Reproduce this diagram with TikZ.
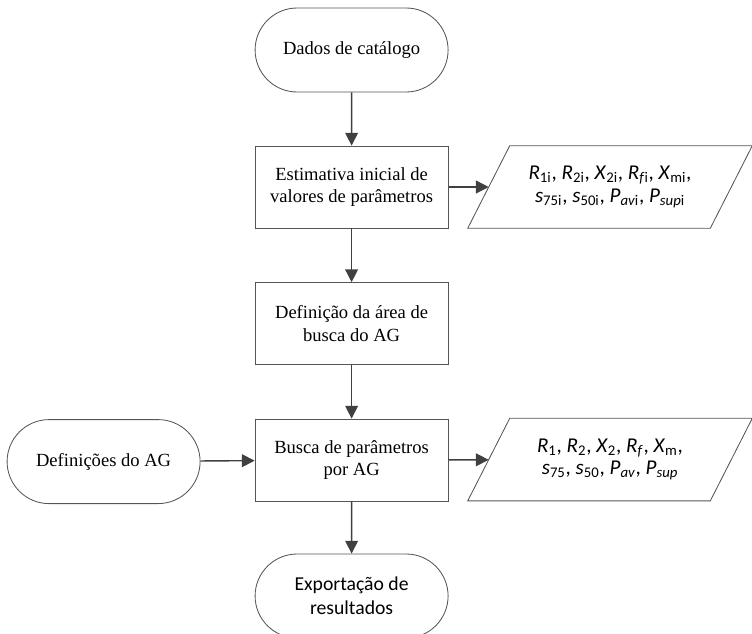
\documentclass[tikz,border=0pt]{standalone}
\usepackage{fontspec}
\setmainfont{Liberation Serif}
\newfontfamily\calibri{Carlito}
\usetikzlibrary{arrows.meta,shapes.misc,positioning}
\definecolor{linegray}{HTML}{555555}
\definecolor{arrowgray}{HTML}{404040}
\newcommand{\pv}[2]{\textit{#1}\textsubscript{#2}}

\begin{document}
\begin{tikzpicture}
		\tikzstyle{every node}=[font=\fontsize{13.2pt}{15.8pt}\selectfont]
		\tikzstyle{terminal}=[draw=linegray, line width=0.6pt, rounded rectangle, minimum width=4.825cm, minimum height=2.1cm, align=center, inner sep=0pt]
		\tikzstyle{process}=[draw=linegray, line width=0.6pt, rectangle, minimum width=4.825cm, minimum height=2.05cm, align=center, inner sep=0pt]
		\tikzstyle{data}=[rectangle, minimum width=6.05cm, minimum height=2.05cm, align=center, inner sep=0pt, font=\calibri\fontsize{15pt}{16pt}\selectfont]
		\tikzstyle{slanted}=[draw=linegray, line width=0.6pt]
		\tikzstyle{flow}=[draw=arrowgray, line width=1pt, -{Triangle[length=3.2mm, width=3.2mm]}]
		\useasboundingbox (0,0) rectangle (18.8,-15.825);
		\node [terminal] (dados) at (8.79,-1.25) {Dados de catálogo};
		\node [process] (estimativa) at (8.79,-4.675) {Estimativa inicial de\\valores de parâmetros};
		\node [process] (area) at (8.79,-8.09) {Definição da área de\\busca do AG};
		\node [process] (busca) at (8.79,-11.5) {Busca de parâmetros\\por AG};
		\node [terminal] (definicoes) at (2.59,-11.54) {Definições do AG};
		\node [terminal, font=\calibri\fontsize{14pt}{17pt}\selectfont] (exportacao) at (8.79,-14.9) {Exportação de\\resultados};
		\node [data] (inicial) at (15.25,-4.675) {\pv{R}{1i}, \pv{R}{2i}, \pv{X}{2i}, \textit{R}\textsubscript{\textit{f}i}, \pv{X}{mi},\\\pv{s}{75i}, \pv{s}{50i}, \textit{P}\textsubscript{\textit{av}i}, \textit{P}\textsubscript{\textit{sup}i}};
		\node [data] (final) at (15.25,-11.49) {\pv{R}{1}, \pv{R}{2}, \pv{X}{2}, \textit{R}\textsubscript{\textit{f}}, \pv{X}{m},\\\pv{s}{75}, \pv{s}{50}, \textit{P}\textsubscript{\textit{av}}, \textit{P}\textsubscript{\textit{sup}}};
		% parallelogram outlines
		\foreach \p in {inicial,final}
			\draw [slanted] ([xshift=-0.525cm]\p.south west) -- ([xshift=0.525cm]\p.north west) -- ([xshift=0.525cm]\p.north east) -- ([xshift=-0.525cm]\p.south east) -- cycle;
		\draw [flow] (dados) -- (estimativa);
		\draw [flow] (estimativa) -- (area);
		\draw [flow] (area) -- (busca);
		\draw [flow] (busca) -- (exportacao);
		\draw [flow] (definicoes) -- (busca);
		\draw [flow] (estimativa) -- (inicial);
		\draw [flow] (busca) -- (final);
	\end{tikzpicture}
\end{document}
